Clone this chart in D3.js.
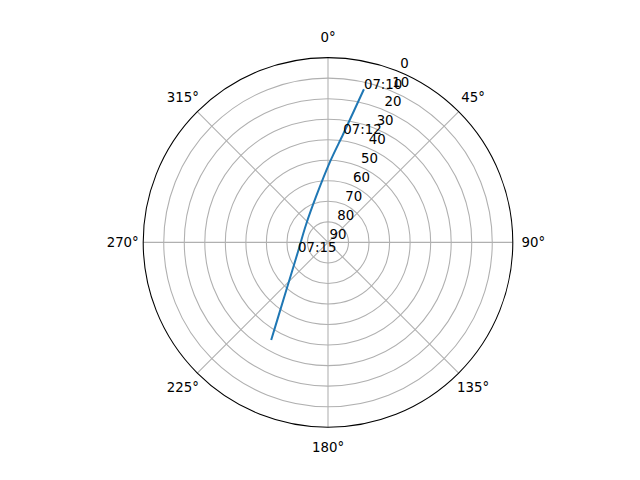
<!DOCTYPE html>
<html>
<head>
<meta charset="utf-8">
<script src="https://cdn.jsdelivr.net/npm/d3@7"></script>
<style>
  body { margin: 0; background: #fff; }
  svg { display: block; }
  text { font-family: "DejaVu Sans", sans-serif; font-size: 13.33px; fill: #000; }
</style>
</head>
<body>
<div id="chart"></div>
<script>
// satellite pass, azimuth (deg) and elevation (deg) per time step
const passTimes = ['07:10', '07:11', '07:12', '07:13', '07:14', '07:14:30', '07:15', '07:16', '07:17', '07:17:40'];
const azimuths = [13.2, 11.2, 8.0, 1.4, 345.3, 308.3, 252.8, 221.2, 213.2, 210.2];
const elevations = [13.4, 24.5, 36.7, 50.8, 67.0, 76.3, 74.7, 59.2, 44.9, 35.0];
const labelledTimes = ['07:10', '07:12', '07:15'];

const elevationTicks = [0, 10, 20, 30, 40, 50, 60, 70, 80, 90];
const azimuthTicks = [0, 45, 90, 135, 180, 225, 270, 315];

const width = 640;
const height = 480;
const cx = 328;
const cy = 242.4;
const radius = 184.8;
const rLabelAngle = 22.5;

const svg = d3.select('#chart').append('svg')
  .attr('width', width)
  .attr('height', height);

const g = svg.append('g').attr('transform', `translate(${cx},${cy})`);

// elevation 90 in the middle, 0 on the rim
const scaleR = d3.scaleLinear().domain([90, 0]).range([0, radius]);
const toRad = (deg) => deg * Math.PI / 180;
const polarX = (az, el) => scaleR(el) * Math.sin(toRad(az));
const polarY = (az, el) => -scaleR(el) * Math.cos(toRad(az));

const drawGrid = () => {
  g.selectAll('.ring')
    .data(elevationTicks.filter(d => d > 0 && d < 90))
    .enter()
    .append('circle')
    .attr('class', 'ring')
    .attr('r', d => scaleR(d))
    .attr('fill', 'none')
    .attr('stroke', '#b0b0b0')
    .attr('stroke-width', 1.07);

  g.selectAll('.spoke')
    .data(azimuthTicks)
    .enter()
    .append('line')
    .attr('class', 'spoke')
    .attr('x1', 0)
    .attr('y1', 0)
    .attr('x2', d => polarX(d, 0))
    .attr('y2', d => polarY(d, 0))
    .attr('stroke', '#b0b0b0')
    .attr('stroke-width', 1.07);
};

const drawPass = () => {
  let data = passTimes.map((t, i) => ({ time: t, az: azimuths[i], el: elevations[i] }));
  let valueLine = d3.lineRadial()
    .angle(d => toRad(d.az))
    .radius(d => scaleR(d.el))
    .curve(d3.curveCatmullRom);

  g.append('path')
    .attr('class', 'line-path')
    .attr('d', valueLine(data))
    .attr('fill', 'none')
    .attr('stroke', '#1f77b4')
    .attr('stroke-width', 2);

  g.selectAll('.time-label')
    .data(data.filter(d => labelledTimes.includes(d.time)))
    .enter()
    .append('text')
    .attr('class', 'time-label')
    .attr('x', d => polarX(d.az, d.el))
    .attr('y', d => polarY(d.az, d.el))
    .text(d => d.time);
};

const drawLabels = () => {
  // outer rim
  g.append('circle')
    .attr('r', radius)
    .attr('fill', 'none')
    .attr('stroke', '#000')
    .attr('stroke-width', 1.07);

  g.selectAll('.az-label')
    .data(azimuthTicks)
    .enter()
    .append('text')
    .attr('class', 'az-label')
    .attr('text-anchor', 'middle')
    .attr('x', d => (radius + 20.5) * Math.sin(toRad(d)))
    .attr('y', d => -(radius + 20.5) * Math.cos(toRad(d)) + 4.8)
    .text(d => `${d}°`);

  g.selectAll('.el-label')
    .data(elevationTicks)
    .enter()
    .append('text')
    .attr('class', 'el-label')
    .attr('x', d => polarX(rLabelAngle, d) + 1.5)
    .attr('y', d => polarY(rLabelAngle, d) - 3.5)
    .text(d => d);
};

drawGrid();
drawPass();
drawLabels();
</script>
</body>
</html>
